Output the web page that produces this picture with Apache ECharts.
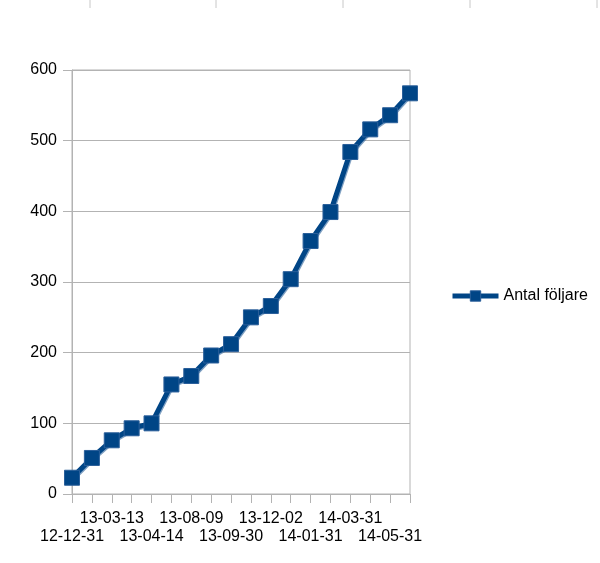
<!DOCTYPE html>
<html>
<head>
<meta charset="utf-8">
<script src="https://cdn.jsdelivr.net/npm/echarts/dist/echarts.min.js"></script>
<style>
html, body { margin: 0; padding: 0; background: #fff; }
#main { width: 600px; height: 563px; }
</style>
</head>
<body>
<div id="main"></div>
<script>
// datum (varannan etikett syns i originalet, mellanliggande är uppskattade)
var datum = ['12-12-31', '13-02-14', '13-03-13', '13-03-31', '13-04-14', '13-06-30',
	'13-08-09', '13-08-31', '13-09-30', '13-10-31', '13-12-02', '13-12-31',
	'14-01-31', '14-02-28', '14-03-31', '14-04-30', '14-05-31', '14-06-30'];
var foljare = [23, 51, 76, 93, 100, 155, 167, 196, 212, 250, 266, 304, 358, 399, 484, 516, 536, 567];
var yTicks = [0, 100, 200, 300, 400, 500, 600];

// små streck överst (kolumngränser från kalkylbladet)
var topMarks = [90, 216, 343, 470, 597];

var chart = echarts.init(document.getElementById('main'));

var option = {
	animation: false,
	textStyle: { fontFamily: 'Liberation Sans' },
	graphic: topMarks.map(function (x) {
		return {
			type: 'line',
			shape: { x1: x, y1: 0, x2: x, y2: 8 },
			style: { stroke: '#c8c8c8', lineWidth: 1 }
		};
	}),
	grid: {
		left: 72,
		right: 190,
		top: 70,
		bottom: 69,
		show: true,
		borderColor: '#b3b3b3',
		borderWidth: 1,
		containLabel: false,
		outerBoundsMode: 'none'
	},
	legend: {
		left: 445,
		top: 283,
		itemWidth: 46,
		itemHeight: 13,
		itemStyle: { borderWidth: 1, borderColor: '#2a5f9a' },
		lineStyle: { width: 5 },
		textStyle: { fontSize: 16, color: '#000', fontFamily: 'Liberation Sans' },
		data: ['Antal följare']
	},
	xAxis: {
		type: 'category',
		boundaryGap: false,
		data: datum,
		axisLine: { lineStyle: { color: '#b3b3b3', width: 1 } },
		axisTick: { show: true, interval: 0, length: 9, lineStyle: { color: '#b3b3b3' } },
		axisLabel: {
			// varannan etikett, växelvis övre och undre rad
			interval: 0,
			margin: 16,
			fontSize: 16,
			lineHeight: 17.5,
			color: '#000',
			formatter: function (value, index) {
				if (index % 2 === 1) return '';
				return (index / 2) % 2 === 1 ? value : '\n' + value;
			}
		},
		splitLine: { show: false }
	},
	yAxis: {
		type: 'value',
		min: yTicks[0],
		max: yTicks[yTicks.length - 1],
		interval: 100,
		axisLine: { show: true, lineStyle: { color: '#b3b3b3' } },
		axisTick: { show: true, length: 9, lineStyle: { color: '#b3b3b3' } },
		axisLabel: { fontSize: 16, color: '#000', margin: 15 },
		splitLine: { lineStyle: { color: '#b3b3b3', width: 1 } }
	},
	series: [{
		name: 'Antal följare',
		type: 'line',
		data: foljare,
		symbol: 'rect',
		symbolSize: 15,
		showAllSymbol: true,
		lineStyle: { color: '#004586', width: 5, shadowColor: 'rgba(42,96,154,0.6)', shadowOffsetX: 1, shadowOffsetY: 1 },
		itemStyle: { color: '#004586', borderColor: '#2a5f9a', borderWidth: 1 }
	}]
};

chart.setOption(option);
</script>
</body>
</html>
